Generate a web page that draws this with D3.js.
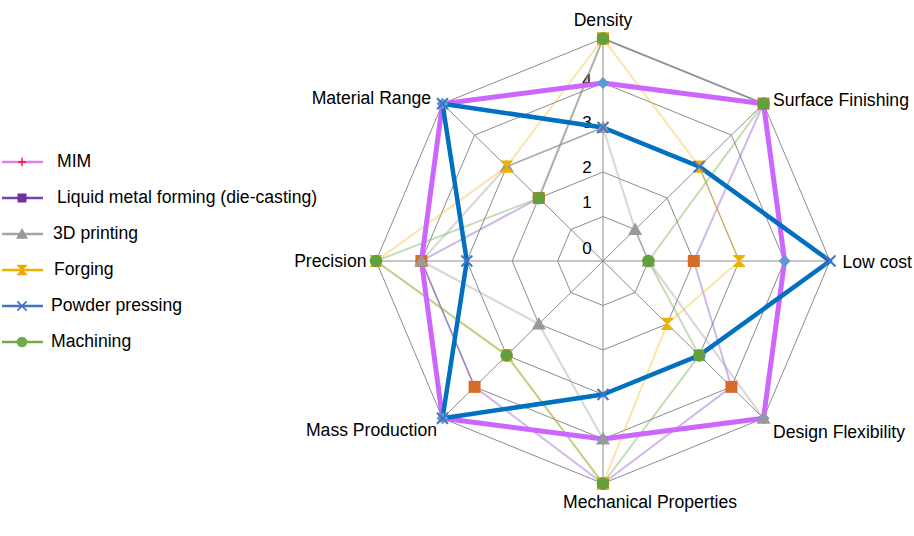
<!DOCTYPE html>
<html><head><meta charset="utf-8">
<script src="https://cdn.jsdelivr.net/npm/d3@7"></script>
<style>body{margin:0;background:#fff;} svg{display:block;font-family:"Liberation Sans",Arial,sans-serif;}</style>
</head><body><svg id="c" width="914" height="536"></svg>
<script>
// ---- data ----
const axes = ["Density","Surface Finishing","Low cost","Design Flexibility","Mechanical Properties","Mass Production","Precision","Material Range"];
const seriesNames = ["MIM","Liquid metal forming (die-casting)","3D printing","Forging","Powder pressing","Machining"];
const mim         = [4,5,4,5,4,5,4,5];
const liquidMetal = [5,5,2,4,5,4,4,2];
const printing3d  = [3,1,1,5,4,2,4,3];
const forging     = [5,3,3,2,5,3,5,3];
const powder      = [3,3,5,3,3,5,3,5];
const machining   = [5,5,1,3,5,3,5,2];
const tickValues  = [0,1,2,3,4];
const ringValues  = [1,2,3,4,5];
const maxValue = 5;

const seriesValues = [mim, liquidMetal, printing3d, forging, powder, machining];

// ---- styles ----
const styles = [
  {line:"#CC66FF", width:5,   op:1,    marker:"diamond",  fill:"#5B9BD5", lgLine:"#DD7FEE", lgMarker:"cross"},
  {line:"#8E55D0", width:2,   op:0.42, marker:"square",   fill:"#D86B28", lgLine:"#7B3FB0", lgMarker:"squareP"},
  {line:"#AAAAAA", width:2.2, op:0.45, marker:"triangle", fill:"#999999", lgLine:"#A5A5A5", lgMarker:"triangle"},
  {line:"#F2C230", width:2,   op:0.42, marker:"hourglass",fill:"#EDB100", lgLine:"#F0B400", lgMarker:"hourglass"},
  {line:"#0070C0", width:4.5, op:1,    marker:"x",        fill:"#4472C4", lgLine:"#4472C4", lgMarker:"x"},
  {line:"#72AE4E", width:2,   op:0.42, marker:"circle",   fill:"#62A03C", lgLine:"#70AD47", lgMarker:"circle"}
];

const svg = d3.select("#c");
const cx = 603, cy = 261;
const rX = d3.scaleLinear().domain([0, maxValue]).range([0, 227]);
const rY = d3.scaleLinear().domain([0, maxValue]).range([0, 222.5]);
const ang = d3.scaleLinear().domain([0, axes.length]).range([0, 2*Math.PI]);
const pt = (i, v) => [cx + rX(v)*Math.sin(ang(i)), cy - rY(v)*Math.cos(ang(i))];

// grid rings
const g = svg.append("g");
ringValues.forEach(v => {
  g.append("path")
    .attr("d", d3.line().curve(d3.curveLinearClosed)(axes.map((a,i)=>pt(i,v))))
    .attr("fill","none").attr("stroke","#8C8C8C").attr("stroke-width",1);
});
axes.forEach((a,i) => {
  const [x,y] = pt(i, maxValue);
  g.append("line").attr("x1",cx).attr("y1",cy).attr("x2",x).attr("y2",y)
    .attr("stroke","#8C8C8C").attr("stroke-width",1);
});

// tick labels
const tickNudge = [-13,-14.5,-5,-5.5,-3];
tickValues.forEach((v,k) => {
  const [x,y] = pt(0, v);
  svg.append("text").attr("x", x-16).attr("y", y + tickNudge[k]).attr("dy","0.35em")
    .attr("text-anchor","middle").attr("font-size","17px").attr("fill","#000").text(v);
});

// axis labels
const labelOff = [
  {dx:0, dy:-18.5, anchor:"middle"},
  {dx:9.5, dy:-4, anchor:"start"},
  {dx:12.5, dy:1, anchor:"start"},
  {dx:9.5, dy:13.5, anchor:"start"},
  {dx:-40, dy:18.5, anchor:"start"},
  {dx:-5.5, dy:11.7, anchor:"end"},
  {dx:-9.5, dy:0, anchor:"end"},
  {dx:-11.5, dy:-6, anchor:"end"}
];
axes.forEach((a,i) => {
  const [x,y] = pt(i, maxValue);
  const o = labelOff[i];
  svg.append("text").attr("x", x+o.dx).attr("y", y+o.dy).attr("dy","0.35em")
    .attr("text-anchor", o.anchor).attr("font-size","17.6px").attr("fill","#000").text(a);
});

// series lines
const lineGen = d3.line().curve(d3.curveLinearClosed);
const lineOrder = [1,2,3,5,0,4];
lineOrder.forEach(s => {
  const st = styles[s];
  svg.append("path")
    .attr("d", lineGen(seriesValues[s].map((v,i)=>pt(i,v))))
    .attr("fill","none").attr("stroke", st.line).attr("stroke-width", st.width)
    .attr("stroke-opacity", st.op).attr("stroke-linejoin","round");
});

// markers
function drawMarker(sel, type, x, y, fill, scale) {
  const k = scale || 1;
  const grp = sel.append("g").attr("transform", `translate(${x},${y}) scale(${k})`);
  if (type === "diamond") grp.append("path").attr("d","M0,-6L6,0L0,6L-6,0Z").attr("fill",fill);
  else if (type === "square" || type === "squareP") grp.append("rect").attr("x",-6).attr("y",-6).attr("width",12).attr("height",12).attr("fill",fill);
  else if (type === "triangle") grp.append("path").attr("d","M0,-7L7,5.5L-7,5.5Z").attr("fill",fill);
  else if (type === "hourglass") grp.append("path").attr("d","M-5.5,-5.5H5.5L-5.5,5.5H5.5Z").attr("fill",fill).attr("stroke",fill).attr("stroke-width",1.2).attr("stroke-linejoin","round");
  else if (type === "x") grp.append("path").attr("d","M-5.5,-5.5L5.5,5.5M5.5,-5.5L-5.5,5.5").attr("stroke",fill).attr("stroke-width",2).attr("fill","none");
  else if (type === "circle") grp.append("circle").attr("r",6.3).attr("fill",fill);
  else if (type === "cross") grp.append("path").attr("d","M-4.5,0H4.5M0,-5V5").attr("stroke","#FF1010").attr("stroke-width",1.6);
}
const markerOrder = [0,1,2,3,4,5];
markerOrder.forEach(s => {
  const st = styles[s];
  seriesValues[s].forEach((v,i) => {
    const [x,y] = pt(i,v);
    drawMarker(svg, st.marker, x, y, st.fill);
  });
});

// legend
const legendY = d3.scaleLinear().domain([0, seriesNames.length-1]).range([162, 342]);
const legendTextX = [57,57,53,54,51,51];
const lg = svg.append("g");
seriesNames.forEach((name, s) => {
  const st = styles[s];
  const y = legendY(s);
  lg.append("line").attr("x1",2).attr("x2",43).attr("y1",y).attr("y2",y)
    .attr("stroke", st.lgLine).attr("stroke-width",2.5);
  let fill = st.fill;
  if (st.lgMarker === "squareP") fill = "#7030A0";
  if (st.lgMarker === "circle") fill = "#70AD47";
  if (st.lgMarker === "hourglass") fill = "#E8AA00";
  drawMarker(lg, st.lgMarker, 22, y, fill, st.lgMarker === "squareP" ? 0.75 : 0.85);
  lg.append("text").attr("x", legendTextX[s]).attr("y", y-1.5).attr("dy","0.35em")
    .attr("font-size","17.6px").attr("fill","#000").text(name);
});
</script></body></html>
